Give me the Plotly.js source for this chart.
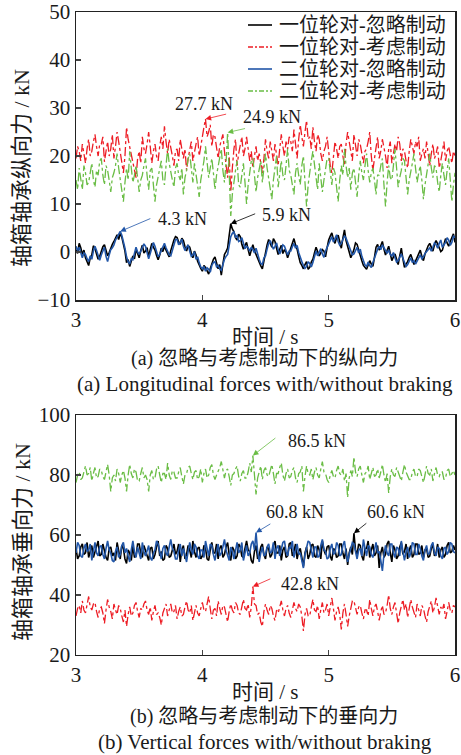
<!DOCTYPE html>
<html><head><meta charset="utf-8">
<script src="https://cdn.plot.ly/plotly-3.0.1.min.js"></script>
<style>html,body{margin:0;padding:0;background:#fff}#chart{width:461px;height:755px}</style>
</head><body><div id="chart"></div>
<script>
// sampling grid: 3.000 s to 6.000 s every 0.0125 s (241 samples)
const time = Array.from({length:241}, (_, i) => +(3 + 0.0125 * i).toFixed(4));

const seriesNames = ['一位轮对-忽略制动','一位轮对-考虑制动','二位轮对-忽略制动','二位轮对-考虑制动'];

// (a) longitudinal force, kN
const lonW1Ignore = [
0.5,-0.3,1.8,0.9,-0.5,0.4,-1.2,-2.0, -2.8,-1.2,-0.6,1.3,0.8,-0.4,-1.5,-0.9,
0.2,1.1,1.5,0.2,-0.8,-0.1,0.9,1.6, 2.2,2.9,3.6,2.6,3.9,3.1,1.5,0.2,
-2.2,-1.6,-3.0,-2.1,-0.8,-1.4,0.6,-0.3, -1.2,0.3,1.4,-0.2,0.2,0.9,-1.0,0.5,
1.8,1.0,0.4,-0.7,-1.6,-0.6,0.8,0.1, 1.2,0.4,-0.5,-1.0,0.3,1.6,2.5,3.2,
3.0,2.1,1.6,2.9,2.4,1.1,0.2,1.3, 1.0,-0.2,-1.2,0.2,-0.6,-1.9,-2.8,-3.4,
-4.0,-2.8,-3.2,-4.1,-4.6,-3.5,-2.2,-1.5, -1.0,-2.2,-3.5,-2.6,-4.8,-2.5,-0.5,0.1,
0.8,3.5,5.9,4.8,4.2,3.0,2.5,3.7, 3.2,1.6,0.6,1.4,2.0,0.5,-0.8,0.4,
1.5,0.3,-0.5,-1.6,-2.0,-2.9,-3.5,-1.8, 0.2,1.5,2.6,1.6,1.0,2.8,2.2,0.8,
-0.5,0.6,1.4,-0.3,0.5,0.0,-1.2,-0.2, 0.8,1.9,2.8,1.5,0.6,-0.9,-2.2,-2.8,
-3.5,-2.6,-2.0,-3.6,-3.2,-2.1,-1.5,-0.2, 1.0,0.1,-0.8,-0.2,0.5,0.2,-1.0,0.9,
2.5,3.3,4.0,2.6,1.8,3.0,3.5,2.2, 0.8,2.9,4.6,2.4,1.2,0.1,-1.2,-0.4,
0.5,1.9,1.6,0.4,-0.5,-1.8,-2.8,-3.3, -3.6,-2.7,-1.8,-2.5,-3.0,-1.1,1.0,1.6,
0.4,1.3,2.2,0.6,-0.6,0.3,1.2,-0.3, -1.8,-1.0,-0.4,-1.5,-2.6,-0.8,0.8,-1.4,
-3.2,-2.5,-2.0,-1.1,-0.5,-1.5,-2.6,-1.9, -1.2,-0.3,0.4,-0.9,-1.8,-0.4,0.6,1.3,
1.8,0.9,0.2,1.5,2.4,1.7,1.0,0.1, 0.4,1.6,2.8,1.9,1.2,2.2,3.0,3.8, 2.0];
const lonW1Brake = [
19.5,22.0,21.0,19.0,22.5,20.5,18.5,21.5, 23.5,20.0,21.0,23.0,24.5,22.0,20.0,22.5,
22.5,24.0,18.8,21.0,23.0,20.0,21.5,24.5, 19.5,22.0,25.0,23.0,21.0,18.5,16.5,20.0,
26.0,23.5,22.0,20.5,19.0,17.0,15.5,19.5, 21.0,18.5,24.0,21.5,20.5,22.5,25.0,22.0,
18.5,21.0,22.5,20.0,19.0,22.0,24.0,21.5, 26.2,23.0,20.5,23.5,22.0,20.0,18.0,21.0,
21.5,19.0,23.5,21.0,19.5,21.5,17.0,19.5, 21.0,23.0,19.0,21.0,22.5,24.0,20.0,22.0,
24.5,26.0,27.7,24.0,25.0,26.5,22.0,24.5, 24.0,21.5,19.5,22.0,23.0,24.5,21.0,18.5,
15.5,20.0,12.5,17.5,21.5,23.5,18.0,20.5, 22.5,24.0,20.0,21.5,24.0,21.0,19.0,21.0,
17.5,20.0,22.0,19.0,20.5,18.5,16.5,19.5, 23.5,21.0,19.5,23.0,21.0,19.0,22.5,20.5,
18.0,21.5,24.5,22.0,20.0,23.0,21.5,24.0, 23.0,21.0,25.5,22.5,19.5,23.5,26.5,24.0,
22.0,25.0,27.4,23.5,24.0,21.5,26.0,23.0, 21.0,24.5,23.5,20.5,19.0,21.0,22.0,24.0,
20.5,18.0,16.5,20.0,23.0,21.5,19.5,22.0, 22.5,20.0,18.0,22.5,25.0,23.0,21.0,19.0,
24.5,22.0,20.0,23.5,22.5,20.5,18.5,21.0, 21.5,23.0,25.0,20.0,17.0,19.5,22.0,24.0,
19.5,21.0,23.5,22.0,20.0,17.5,21.5,23.0, 18.5,20.5,22.5,21.0,24.0,22.5,19.0,21.5,
21.0,19.0,17.5,21.0,23.5,22.0,20.5,23.0, 22.0,24.0,19.0,20.5,21.5,19.5,23.0,20.5,
18.0,20.5,22.5,19.5,20.5,22.0,17.5,19.0, 21.5,23.0,19.0,21.0,22.0,20.0,18.5,21.0, 20.0];
const lonW2Ignore = [
1.2,0.3,1.0,-0.3,-1.2,-0.2,-0.5,-1.4, -2.0,-0.8,-1.5,0.2,1.2,0.3,-0.8,-1.7,
-0.6,0.4,1.0,-0.9,-2.0,-0.6,0.5,0.9, 1.5,2.5,3.2,3.6,4.3,3.5,2.4,0.8,
-1.0,-2.0,-2.5,-1.4,-1.6,-0.2,1.0,0.0, -0.5,0.2,0.8,1.7,1.2,0.0,-1.4,-0.3,
1.0,2.0,1.2,0.1,-1.0,-0.5,0.2,1.1, 1.8,0.9,0.2,-0.6,-0.8,0.5,1.5,2.6,
2.6,1.5,2.0,2.7,1.2,0.3,1.0,1.5, 0.2,-0.9,-0.6,0.1,-1.5,-1.0,-2.2,-3.1,
-3.5,-3.0,-4.0,-3.3,-3.6,-4.2,-2.8,-2.2, -2.0,-3.1,-2.8,-3.5,-3.8,-2.6,-1.5,-0.9,
-0.5,1.4,3.2,3.9,4.2,3.1,3.4,2.2, 2.4,3.0,1.6,0.7,1.2,0.9,0.2,1.0,
0.5,-0.2,0.8,-0.6,-1.5,-2.4,-2.6,-1.2, -0.8,0.6,1.8,2.4,1.6,0.6,1.2,1.9,
0.5,-0.4,0.4,1.5,1.2,0.3,-0.6,0.2, 0.2,1.1,1.8,0.8,1.4,-0.1,-1.2,-2.0,
-2.8,-3.4,-3.0,-2.0,-2.4,-3.1,-2.2,-1.0, 0.2,-0.8,0.0,0.7,-0.4,-1.1,0.2,0.9,
1.6,2.4,3.2,2.1,2.8,3.6,2.2,1.4, 1.8,2.6,3.4,2.9,2.0,1.0,0.2,-0.6,
-0.4,0.4,1.0,-0.2,0.6,-0.9,-2.0,-2.7, -3.0,-2.1,-2.8,-3.2,-2.2,-1.2,-0.2,0.6,
1.2,0.5,1.5,0.9,0.4,-0.3,0.5,-0.5, -0.8,-0.1,-1.2,-2.1,-1.8,-1.0,-0.4,-1.3,
-2.4,-3.0,-2.6,-1.9,-1.2,-2.2,-1.8,-2.5, -1.8,-1.1,-0.6,-1.4,-1.0,-0.3,0.0,0.5,
0.9,0.2,1.0,1.9,1.6,0.8,1.8,2.5, 1.0,1.6,2.0,3.0,2.5,1.4,2.0,3.3, 3.0];
const lonW2Brake = [
15.0,13.0,17.5,15.5,13.0,18.0,16.5,14.0, 14.5,16.5,18.5,15.0,13.5,17.0,16.0,19.0,
19.5,16.0,14.0,18.0,17.0,15.0,12.5,15.5, 16.5,18.0,20.5,17.5,15.0,13.0,10.5,14.5,
17.5,15.0,21.0,17.5,14.5,16.0,18.0,15.5, 12.5,15.0,16.0,18.0,19.5,16.0,13.0,17.0,
17.5,14.0,10.5,14.0,15.5,17.0,19.0,15.0, 14.0,18.0,21.5,18.5,16.5,15.0,13.5,17.5,
18.5,16.0,15.0,17.5,12.0,15.5,17.0,19.5, 20.5,17.0,14.5,18.5,16.0,13.5,11.5,15.0,
17.0,19.0,22.0,18.0,15.5,17.5,19.5,16.5, 13.0,16.0,18.0,20.0,21.5,17.0,14.5,18.5,
24.9,16.5,7.5,12.0,15.0,17.0,19.0,14.0, 13.5,16.0,18.5,14.5,10.0,14.0,16.5,19.0,
19.5,16.0,12.5,15.5,17.0,19.0,14.5,17.5, 20.5,17.5,15.5,13.5,11.0,15.0,17.5,20.0,
13.5,16.5,19.0,16.0,15.0,18.0,21.5,17.0, 16.0,14.0,12.0,16.5,18.5,16.0,14.0,18.0,
20.0,14.5,9.5,14.0,17.0,19.0,21.0,17.5, 15.5,13.0,18.5,15.5,12.5,15.0,17.0,19.5,
19.5,16.5,14.0,17.5,16.5,13.5,10.5,15.0, 18.0,16.0,21.5,18.0,15.5,17.5,13.0,16.5,
17.5,14.5,11.5,16.0,19.0,16.5,15.0,18.0, 20.5,17.0,14.5,16.5,17.5,15.0,12.0,16.0,
16.0,18.0,19.5,14.0,9.5,14.5,18.0,15.5, 15.0,18.0,21.5,17.5,13.5,15.5,17.0,19.5,
19.0,15.5,12.0,15.0,16.5,18.5,20.5,17.0, 14.5,16.5,18.0,15.0,11.0,14.0,16.0,18.5,
20.5,17.5,15.5,18.0,17.5,14.5,12.5,16.0, 18.5,16.0,14.0,17.0,19.5,15.0,10.5,14.0, 16.5];

// (b) vertical force, kN
const verW1Ignore = [
55.5,52.0,53.0,56.0,57.0,53.5,54.0,57.5, 52.5,55.0,56.5,52.5,54.5,56.0,58.0,53.0,
53.5,57.0,55.0,52.5,51.5,55.5,56.0,53.0, 54.0,51.5,57.5,54.0,52.0,56.5,55.5,52.0,
50.5,55.0,54.0,51.5,56.5,52.5,53.0,57.0, 57.0,54.0,52.5,56.5,55.0,53.0,51.5,55.5,
56.0,52.0,53.5,56.0,58.0,53.0,54.5,51.5, 52.0,56.5,55.5,52.5,53.0,55.0,57.0,53.5,
54.5,57.0,51.0,55.0,56.5,52.0,53.5,56.5, 55.0,52.5,58.0,54.5,52.5,55.5,56.0,52.0,
53.0,56.5,55.5,52.0,51.5,55.0,57.5,54.0, 54.0,57.0,52.0,55.5,56.5,52.5,53.5,56.0,
57.5,53.5,51.5,56.0,55.0,52.0,53.0,57.0, 56.0,53.0,52.5,55.5,58.0,55.0,54.5,51.5,
50.5,54.5,56.5,52.0,53.0,56.0,57.0,53.5, 52.0,56.0,55.5,52.5,53.5,56.5,58.0,54.0,
54.0,56.5,51.5,55.0,56.0,52.5,53.0,57.0, 57.5,53.0,54.5,57.0,52.0,54.5,55.5,52.5,
49.5,54.0,56.0,52.0,53.5,56.5,57.0,53.0, 52.5,56.5,55.0,52.0,58.0,55.0,53.5,56.0,
56.5,53.0,51.5,55.5,55.0,52.5,53.0,57.0, 57.0,54.0,52.0,55.5,50.0,54.0,56.0,53.5,
60.6,55.0,53.5,57.0,56.5,53.0,51.5,55.5, 55.5,58.0,52.5,55.0,57.0,53.0,54.0,56.5,
49.0,54.0,56.0,52.5,53.5,57.0,58.0,54.0, 51.0,56.5,55.0,52.0,53.0,56.0,57.5,53.5,
54.5,57.0,52.0,55.0,56.5,52.5,53.5,57.0, 57.0,53.5,54.0,56.5,52.5,55.0,55.5,52.5,
53.0,55.5,56.5,53.0,54.0,57.0,52.5,55.0, 56.0,52.5,53.5,56.5,57.5,54.0,54.5,56.5, 55.0];
const verW1Brake = [
33.0,35.5,36.5,34.0,38.0,35.0,34.0,37.0, 39.5,36.0,35.0,37.0,37.5,34.5,32.5,35.5,
36.0,34.0,30.5,35.0,38.5,36.0,34.5,32.0, 37.0,35.0,33.5,36.5,35.5,33.0,31.0,35.0,
29.5,33.5,36.0,33.0,34.0,36.5,37.5,34.5, 32.5,35.5,35.0,37.0,38.0,35.0,33.5,36.0,
31.5,34.5,36.5,33.5,34.0,32.5,30.0,34.0, 35.5,37.0,33.0,35.5,37.0,34.0,34.5,36.5,
32.0,34.5,36.0,33.0,33.5,36.0,38.0,35.0, 34.0,36.5,31.5,34.0,36.5,34.0,33.0,35.5,
37.5,35.0,34.5,37.0,39.5,35.5,32.0,35.0, 35.5,33.0,38.0,35.5,33.5,36.5,36.0,33.5,
31.0,34.5,37.0,35.0,34.0,37.5,36.5,34.0, 33.5,36.0,38.5,35.5,35.0,37.0,32.5,36.0,
42.8,37.0,36.5,33.5,34.0,31.0,29.5,34.5, 37.0,35.0,33.5,36.5,35.5,33.0,31.5,35.0,
34.0,36.0,38.0,35.0,33.0,35.5,36.5,34.0, 32.5,35.0,37.5,35.5,34.5,37.0,36.0,33.0,
28.0,33.5,35.5,33.0,33.0,36.0,38.5,35.0, 34.5,36.5,32.0,35.0,37.5,34.0,35.0,37.0,
33.0,36.0,39.0,35.5,31.5,34.5,36.0,33.5, 28.5,34.0,37.0,33.5,29.5,33.0,35.5,38.0,
38.0,35.5,33.5,36.0,36.5,34.0,32.0,35.0, 35.0,33.0,38.5,35.5,33.0,36.0,37.0,34.5,
31.5,34.5,36.5,33.5,34.0,36.5,40.0,35.5, 33.5,36.0,37.5,34.0,30.5,34.0,36.0,38.5,
35.0,37.0,32.5,35.5,38.5,36.0,34.5,32.5, 37.0,34.5,33.0,36.5,35.5,33.0,31.0,34.5,
36.5,38.0,34.0,36.0,39.0,35.5,33.5,36.0, 35.0,37.0,32.0,34.5,37.5,35.0,34.0,36.5, 36.0];
const verW2Ignore = [
54.0,57.5,56.5,53.0,52.5,55.5,57.0,54.5, 55.0,57.0,51.5,55.0,57.5,54.0,53.0,56.0,
56.5,53.5,52.0,55.5,58.0,55.0,54.0,51.5, 51.0,54.5,56.0,52.5,53.5,56.5,57.5,54.0,
55.5,53.0,51.0,55.0,58.0,54.5,52.5,56.0, 54.0,52.0,57.5,54.5,53.0,55.0,56.5,52.5,
51.5,54.0,55.0,58.0,57.0,54.5,52.0,55.5, 56.5,54.0,53.0,56.0,58.5,55.5,54.5,52.0,
52.0,55.0,57.0,53.0,55.5,53.5,51.0,54.5, 57.5,55.0,53.5,57.0,56.0,53.0,52.0,55.0,
55.0,52.5,58.0,55.5,53.0,57.0,56.5,53.5, 51.5,54.5,57.0,53.0,54.0,56.0,58.5,55.0,
53.5,51.5,56.0,54.5,52.0,55.0,57.5,54.0, 55.0,57.5,51.5,54.0,56.5,53.0,54.0,57.0,
58.0,55.0,60.8,54.5,51.0,54.0,56.0,53.0, 53.5,56.0,57.0,54.0,54.5,57.5,52.0,55.5,
56.5,53.0,55.0,57.5,58.0,54.5,53.0,56.0, 55.5,58.0,52.5,55.0,57.0,53.5,54.0,51.5,
49.0,53.5,55.5,58.0,57.5,54.5,52.5,56.0, 56.0,52.5,53.0,56.5,58.5,55.0,54.5,52.0,
52.5,55.5,57.0,53.5,54.0,57.5,56.5,53.0, 53.5,56.5,58.0,54.0,51.0,53.5,55.5,57.5,
57.0,54.5,52.0,55.0,55.5,53.0,58.5,55.5, 53.0,56.5,56.0,53.5,52.5,55.0,57.5,54.0,
54.5,51.5,48.0,53.5,56.5,54.0,53.0,57.0, 57.0,54.0,52.5,56.0,55.5,53.0,58.0,54.5,
51.5,54.5,56.0,52.5,54.0,57.5,57.0,53.5, 53.5,57.0,55.5,53.0,51.5,55.0,56.5,53.5,
54.0,56.5,57.5,54.0,53.0,56.0,55.5,53.0, 52.0,55.5,56.0,53.5,54.5,57.5,57.0,54.5, 54.0];
const verW2Brake = [
77.5,80.0,81.0,78.5,79.0,81.5,83.0,80.0, 80.5,82.5,78.0,80.5,82.5,79.0,79.5,82.0,
81.5,79.5,78.5,81.0,83.5,80.0,74.5,79.0, 80.0,78.0,82.0,80.5,77.5,80.0,81.5,79.0,
74.5,80.0,83.5,80.5,79.0,82.0,81.0,78.0, 78.0,80.5,82.5,79.0,80.0,78.5,74.5,80.0,
81.5,78.5,79.0,82.0,83.0,80.0,77.5,80.5, 80.5,78.5,84.0,80.0,78.5,81.5,81.0,79.0,
79.0,81.0,82.5,79.5,77.0,80.0,80.5,82.5, 83.0,80.5,78.5,81.0,81.5,78.5,79.5,82.0,
77.5,80.5,82.0,79.0,80.0,82.5,83.5,80.0, 78.5,80.0,81.0,82.5,84.5,81.0,79.0,81.5,
82.0,79.5,76.5,80.0,80.5,82.0,83.0,79.5, 78.0,80.5,81.5,79.0,79.0,81.0,84.0,81.0,
86.5,80.0,73.5,79.0,81.0,83.0,78.5,81.5, 82.5,80.0,79.5,82.0,83.5,80.5,77.0,80.5,
80.5,82.5,84.0,80.0,78.0,80.5,82.0,79.0, 79.5,81.5,82.5,79.0,77.5,80.5,81.0,83.0,
74.5,79.5,83.0,80.5,80.0,82.0,78.5,81.0, 82.5,80.0,79.0,82.0,84.5,81.0,80.5,78.5,
77.5,80.0,81.5,79.5,79.0,81.5,83.0,80.5, 80.0,82.0,78.0,80.5,72.5,79.0,81.5,79.5,
86.0,81.0,79.5,82.0,83.0,80.0,77.5,80.5, 81.0,83.0,78.5,80.5,82.5,79.5,80.0,82.0,
79.0,81.0,83.5,80.0,77.5,80.5,74.0,79.5, 82.0,80.0,79.5,82.5,81.0,79.0,78.0,81.0,
83.5,81.0,80.0,78.5,78.5,81.0,82.0,79.5, 79.5,82.0,81.5,79.0,77.5,80.0,83.0,80.5,
80.0,82.0,78.0,80.5,82.5,80.0,79.5,81.0, 81.0,78.5,79.0,81.5,82.0,79.5,80.5,81.5, 80.0];

const colors = ['#000000','#ed1c24','#2156a8','#6abd45'];
const dashes = ['solid','dashdot','solid','dashdot'];
const widths = [1.6, 1.3, 1.6, 1.3];
const FONT = "'Liberation Serif', 'Noto Sans CJK SC', serif";
const TXT = '#1a1a1a';

const topSeries = [lonW1Ignore, lonW1Brake, lonW2Ignore, lonW2Brake];
const botSeries = [verW1Ignore, verW1Brake, verW2Ignore, verW2Brake];

const traces = [];
topSeries.forEach((s, k) => traces.push({
  x: time, y: s, type: 'scatter', mode: 'lines', name: seriesNames[k], showlegend: false,
  line: {color: colors[k], width: widths[k], dash: dashes[k]}, xaxis: 'x', yaxis: 'y'
}));
botSeries.forEach((s, k) => traces.push({
  x: time, y: s, type: 'scatter', mode: 'lines', name: seriesNames[k], showlegend: false,
  line: {color: colors[k], width: widths[k], dash: dashes[k]}, xaxis: 'x2', yaxis: 'y2'
}));

function peak(s) { let m = 0; s.forEach((v, i) => { if (v > s[m]) m = i; }); return {x: time[m], y: s[m]}; }

const annotations = [];
const shapes = [];
function callout(series, color, xr, yr, tail, label) {
  const p = peak(series);
  annotations.push({x: p.x, y: p.y, xref: xr, yref: yr, ax: tail[0], ay: tail[1], axref: xr, ayref: yr,
    text: '', showarrow: true, arrowhead: 2, arrowsize: 1.4, arrowwidth: 0.8, arrowcolor: color, standoff: 0, startstandoff: 0});
  annotations.push({x: label[0], y: label[1], xref: xr, yref: yr, text: p.y.toFixed(1) + ' kN', showarrow: false,
    xanchor: 'center', yanchor: 'middle', font: {family: FONT, size: 18, color: TXT}});
}
callout(lonW1Brake, colors[1], 'x', 'y', [4.20, 28.8], [4.01, 30.8]);
callout(lonW2Brake, colors[3], 'x', 'y', [4.35, 25.8], [4.55, 28.1]);
callout(lonW2Ignore, colors[2], 'x', 'y', [3.60, 7.1], [3.84, 6.9]);
callout(lonW1Ignore, colors[0], 'x', 'y', [4.43, 8.1], [4.67, 7.7]);
callout(verW2Brake, colors[3], 'x2', 'y2', [4.59, 92.7], [4.91, 91.4]);
callout(verW2Ignore, colors[2], 'x2', 'y2', [4.55, 64.0], [4.73, 67.6]);
callout(verW1Ignore, colors[0], 'x2', 'y2', [5.31, 64.3], [5.53, 67.6]);
callout(verW1Brake, colors[1], 'x2', 'y2', [4.55, 45.6], [4.85, 43.6]);

function txt(x, y, text, size, angle, xanchor) {
  annotations.push({x: x, y: y, xref: 'paper', yref: 'paper', text: text, showarrow: false,
    xanchor: xanchor || 'center', yanchor: 'middle', textangle: angle || 0,
    font: {family: FONT, size: size, color: TXT}});
}
// legend (drawn as sample lines + labels)
const legendRowsPx = [25, 47, 69, 91];
seriesNames.forEach((name, k) => {
  const yp = 1 - legendRowsPx[k] / 755;
  shapes.push({type: 'line', xref: 'paper', yref: 'paper', x0: 248 / 461, x1: 272 / 461, y0: yp, y1: yp,
    line: {color: colors[k], width: widths[k], dash: k % 2 ? '5px,2px,2px,2px' : 'solid'}});
  txt(277 / 461, yp, name, 20, 0, 'left');
});
txt(22 / 461, 1 - 168 / 755, '轴箱轴承纵向力 / kN', 22, -90);
txt(22 / 461, 1 - 542 / 755, '轴箱轴承垂向力 / kN', 22, -90);
txt(0.576, 1 - 337 / 755, '时间 / s', 21);
txt(0.576, 1 - 692 / 755, '时间 / s', 21);
txt(0.573, 1 - 359 / 755, '(a) 忽略与考虑制动下的纵向力', 20);
txt(0.575, 1 - 384 / 755, '(a) Longitudinal forces with/without braking', 21);
txt(0.573, 1 - 716 / 755, '(b) 忽略与考虑制动下的垂向力', 20);
txt(0.575, 1 - 742 / 755, '(b) Vertical forces with/without braking', 21);

const xcommon = {range: [3, 6], tickvals: [3, 4, 5, 6], ticks: 'inside', ticklen: 5, tickwidth: 1.2,
  showline: true, linewidth: 1.5, linecolor: '#222', mirror: true, showgrid: false, zeroline: false,
  tickfont: {family: FONT, size: 21, color: TXT}, domain: [0.1649, 0.987]};
const ycommon = {ticks: 'inside', ticklen: 5, tickwidth: 1.2, showline: true, linewidth: 1.5, linecolor: '#222',
  mirror: true, showgrid: false, zeroline: false, tickfont: {family: FONT, size: 21, color: TXT}};

const layout = {
  width: 461, height: 755, margin: {l: 0, r: 0, t: 0, b: 0},
  paper_bgcolor: '#fff', plot_bgcolor: '#fff', showlegend: false,
  xaxis: Object.assign({}, xcommon, {anchor: 'y'}),
  yaxis: Object.assign({}, ycommon, {range: [-10, 50], tickvals: [-10, 0, 10, 20, 30, 40, 50], domain: [0.6026, 0.9841], anchor: 'x'}),
  xaxis2: Object.assign({}, xcommon, {anchor: 'y2'}),
  yaxis2: Object.assign({}, ycommon, {range: [20, 100], tickvals: [20, 40, 60, 80, 100], domain: [0.1325, 0.4503], anchor: 'x2'}),
  annotations: annotations,
  shapes: shapes
};
Plotly.newPlot('chart', traces, layout, {displayModeBar: false, staticPlot: true});
</script></body></html>
